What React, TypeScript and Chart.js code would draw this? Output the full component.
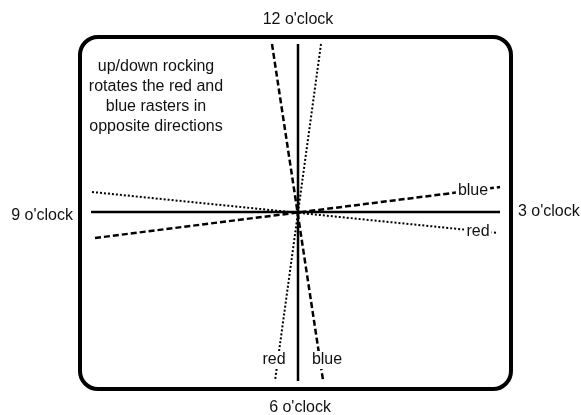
import React, { useEffect, useRef } from "react";
import { Chart, registerables } from "chart.js";

Chart.register(...registerables);

// Coordinates are in a clock-face frame: origin at the centre, x to the right, y upward.
const solidHorizontal = [{ x: -206, y: 0 }, { x: 203, y: 0 }];
const solidVertical = [{ x: 1, y: 168 }, { x: 1, y: -169 }];
const blueHorizontal = [{ x: -202, y: -26 }, { x: 203, y: 25 }];
const redHorizontal = [{ x: -205, y: 20 }, { x: 201, y: -21 }];
const blueVertical = [{ x: -25, y: 168 }, { x: 26, y: -168 }];
const redVertical = [{ x: 24, y: 168 }, { x: -22, y: -169 }];

const clockLabels = ["12 o'clock", "3 o'clock", "6 o'clock", "9 o'clock"];
const clockLabelPos = [
  { x: 1, y: 192, align: "center" },
  { x: 221, y: 0, align: "left" },
  { x: 3, y: -196, align: "center" },
  { x: -224, y: -4, align: "right" },
];

const rasterLabels = ["blue", "red", "red", "blue"];
const rasterLabelPos = [
  { x: 176, y: 21 },
  { x: 181, y: -20 },
  { x: -23, y: -148 },
  { x: 30, y: -148 },
];

const noteLines = [
  "up/down rocking",
  "rotates the red and",
  "blue rasters in",
  "opposite directions",
];
const notePos = { x: -141, y: 145, step: 20 };

const frameBox = { left: -217, right: 214, top: 175, bottom: -177, radius: 18 };

const FONT = "16px 'Liberation Sans', Arial, sans-serif";
const INK = "#111";

const diagramPlugin = {
  id: "diagram",
  afterDatasetsDraw(chart: any) {
    const { ctx, scales } = chart;
    const xs = scales.x;
    const ys = scales.y;
    const px = (v: number) => xs.getPixelForValue(v);
    const py = (v: number) => ys.getPixelForValue(v);
    ctx.save();

    // raster labels with white knock-out backgrounds
    ctx.font = FONT;
    ctx.textBaseline = "middle";
    ctx.textAlign = "center";
    rasterLabels.forEach((t, i) => {
      const p = rasterLabelPos[i];
      const w = ctx.measureText(t).width;
      ctx.fillStyle = "#fff";
      ctx.fillRect(px(p.x) - w / 2 - 2, py(p.y) - 9, w + 4, 18);
      ctx.fillStyle = INK;
      ctx.fillText(t, px(p.x), py(p.y));
    });

    // clock labels
    clockLabels.forEach((t, i) => {
      const p = clockLabelPos[i];
      ctx.textAlign = p.align as CanvasTextAlign;
      ctx.fillStyle = INK;
      ctx.fillText(t, px(p.x), py(p.y));
    });

    // note text
    ctx.textAlign = "center";
    noteLines.forEach((t, i) => {
      ctx.fillText(t, px(notePos.x), py(notePos.y - i * notePos.step));
    });

    // rounded frame
    const l = px(frameBox.left);
    const r = px(frameBox.right);
    const tp = py(frameBox.top);
    const b = py(frameBox.bottom);
    const rad = frameBox.radius;
    ctx.strokeStyle = "#000";
    ctx.lineWidth = 4;
    ctx.beginPath();
    ctx.moveTo(l + rad, tp);
    ctx.lineTo(r - rad, tp);
    ctx.arcTo(r, tp, r, tp + rad, rad);
    ctx.lineTo(r, b - rad);
    ctx.arcTo(r, b, r - rad, b, rad);
    ctx.lineTo(l + rad, b);
    ctx.arcTo(l, b, l, b - rad, rad);
    ctx.lineTo(l, tp + rad);
    ctx.arcTo(l, tp, l + rad, tp, rad);
    ctx.closePath();
    ctx.stroke();

    ctx.restore();
  },
};

export default function App() {
  const ref = useRef<HTMLCanvasElement | null>(null);

  useEffect(() => {
    if (!ref.current) return;
    const lineDs = (data: any[], width: number, dash: number[]) => ({
      data,
      showLine: true,
      borderColor: "#000",
      borderWidth: width,
      borderDash: dash,
      pointRadius: 0,
      fill: false,
      tension: 0,
    });
    const chart = new Chart(ref.current, {
      type: "scatter",
      data: {
        datasets: [
          lineDs(solidHorizontal, 2.5, []),
          lineDs(solidVertical, 2.5, []),
          lineDs(blueHorizontal, 2.5, [6, 3]),
          lineDs(blueVertical, 2.5, [6, 3]),
          lineDs(redHorizontal, 2, [2, 2]),
          lineDs(redVertical, 2, [2, 2]),
        ],
      },
      options: {
        animation: false,
        responsive: false,
        devicePixelRatio: 1,
        layout: { padding: 0 },
        plugins: {
          legend: { display: false },
          tooltip: { enabled: false },
          title: { display: false },
        },
        scales: {
          x: { type: "linear", min: -297, max: 284, display: false },
          y: { type: "linear", min: -203, max: 212, display: false },
        },
      },
      plugins: [diagramPlugin],
    });
    return () => chart.destroy();
  }, []);

  return (
    <div style={{ position: "absolute", left: 0, top: 0, width: 581, height: 415, background: "#fff" }}>
      <canvas ref={ref} width={581} height={415} />
    </div>
  );
}
